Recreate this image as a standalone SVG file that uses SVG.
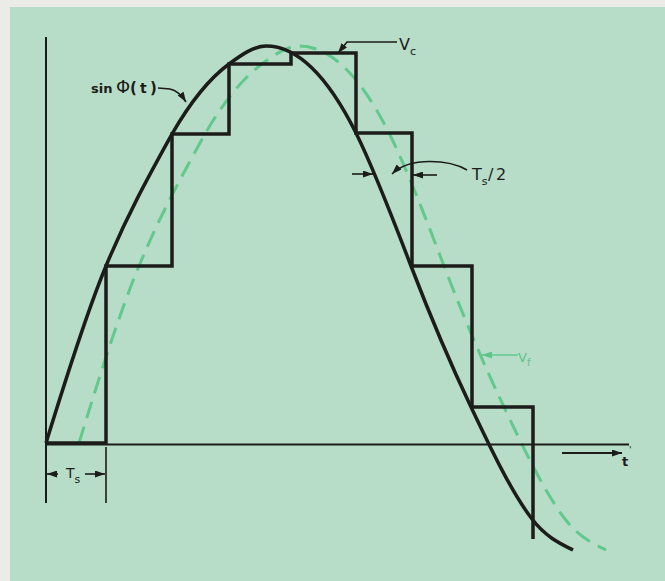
<svg xmlns="http://www.w3.org/2000/svg" width="665" height="581" viewBox="0 0 665 581">
<defs>
<style>
.blk{fill:none;stroke:#1c1c1a;stroke-linejoin:miter;stroke-linecap:butt}
.thin{stroke-width:1.6}
.grn{fill:none;stroke:#62c98c}
.lbl{font-family:"DejaVu Sans","Liberation Sans",sans-serif;fill:#1c1c1a}
.glbl{font-family:"DejaVu Sans","Liberation Sans",sans-serif;fill:#5cc489}
</style>
<marker id="ah" viewBox="0 0 10 7" refX="10" refY="3.5" markerWidth="10" markerHeight="7" markerUnits="userSpaceOnUse" orient="auto">
<path d="M0,0 L10,3.5 L0,7 z" fill="#1c1c1a"/>
</marker>
<marker id="ahg" viewBox="0 0 10 7" refX="10" refY="3.5" markerWidth="10" markerHeight="7" markerUnits="userSpaceOnUse" orient="auto">
<path d="M0,0 L10,3.5 L0,7 z" fill="#5cc489"/>
</marker>
<path id="sinepath" d="M46,443 C66,378 86,314 106,266 C128,213 151,172 172,134 C191,101 210,78 229,64 C241.3,55 253.7,46 266,46 C296,46 326,73 356,133 C374.3,169.7 392.7,218.3 411,266 C431,318 451,365 471,407 C491.3,449.7 511.7,492.6 532,519 C545.7,536.8 559.3,543.2 573,550"/>
</defs>
<rect x="0" y="0" width="665" height="581" fill="#ebebe8"/>
<rect x="10" y="7" width="655" height="574" fill="#b7dcc7"/>

<g id="filtered-curve">
<use href="#sinepath" transform="translate(33,0)" class="grn" stroke-width="3" stroke-dasharray="17 9"/>
</g>

<g id="axes">
<line class="blk" x1="46" y1="37" x2="46" y2="503" stroke-width="2"/>
<line class="blk" x1="46" y1="444.5" x2="629" y2="444.5" stroke-width="2"/>
<line class="blk" x1="106" y1="447" x2="106" y2="503" stroke-width="1.6"/>
</g>

<g id="staircase">
<path class="blk" stroke-width="3.5" d="M46,443 L106,443 L106,266 L172,266 L172,134 L229,134 L229,64 L291,64 L291,53 L356,53 L356,133 L412,133 L412,266 L472,266 L472,407 L533,407 L533,539"/>
</g>

<g id="sine-curve">
<use href="#sinepath" class="blk" stroke-width="3.5"/>
</g>

<g id="connectors">
<path class="blk thin" d="M158,88 L170,89 Q179,91 186,102" marker-end="url(#ah)"/>
<path class="blk thin" d="M397,42 L347,42 L338,53" marker-end="url(#ah)"/>
<path class="blk thin" d="M467,170 C450,160 410,156 392,174" marker-end="url(#ah)"/>
<line class="blk thin" x1="352" y1="174" x2="373" y2="174" marker-end="url(#ah)"/>
<line class="blk thin" x1="437" y1="175" x2="413" y2="175" marker-end="url(#ah)"/>
<line class="grn" stroke-width="1.6" x1="518" y1="355" x2="482" y2="355" marker-end="url(#ahg)"/>
<line class="blk" stroke-width="2" x1="562" y1="453" x2="622" y2="453" marker-end="url(#ah)"/>
<line class="blk thin" x1="58" y1="474" x2="47" y2="474" marker-end="url(#ah)"/>
<line class="blk thin" x1="85" y1="474" x2="105" y2="474" marker-end="url(#ah)"/>
</g>

<g id="label-sin">
<text class="lbl" font-size="13" font-weight="bold" y="93"><tspan x="91">sin</tspan><tspan x="116" font-size="18" font-weight="normal">Φ</tspan><tspan x="130" font-size="15">(</tspan><tspan x="140" font-size="14">t</tspan><tspan x="150" font-size="15">)</tspan></text>
</g>
<g id="label-vc">
<text class="lbl" x="399" y="50" font-size="16">V<tspan font-size="11" dy="5">c</tspan></text>
</g>
<g id="label-ts2">
<text class="lbl" x="472" y="180" font-size="16">T<tspan font-size="11" dy="5">s</tspan><tspan dy="-5" x="488">/</tspan><tspan x="496">2</tspan></text>
</g>
<g id="label-vf">
<text class="glbl" x="518" y="362" font-size="13">V<tspan font-size="10" dy="4">f</tspan></text>
</g>
<g id="label-t">
<text class="lbl" x="622" y="466" font-size="13" font-weight="bold">t</text>
<text class="lbl" x="629" y="453" font-size="9">'</text>
</g>
<g id="label-ts">
<text class="lbl" x="66" y="478" font-size="14">T<tspan font-size="11" dy="5">s</tspan></text>
</g>
</svg>
